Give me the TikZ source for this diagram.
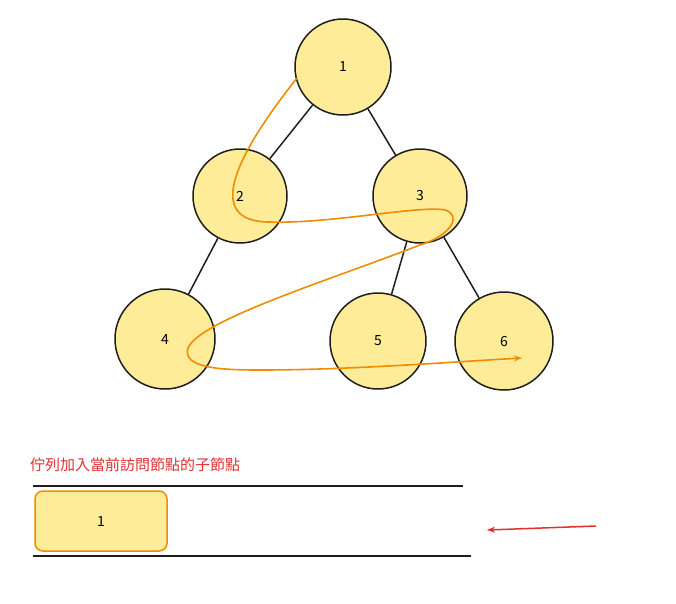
\documentclass[tikz,border=0pt]{standalone}
\usepackage{fontspec}
\setmainfont{Noto Sans CJK TC}
\usetikzlibrary{arrows.meta}
\definecolor{fillY}{HTML}{FFEC99}
\definecolor{ink}{HTML}{1E1E1E}
\definecolor{org}{HTML}{F08C00}
\definecolor{rd}{HTML}{E03131}
\begin{document}
\begin{tikzpicture}[x=1pt,y=-1pt,
  tn/.style={circle,draw=ink,fill=fillY,line width=1.5pt,inner sep=0pt,font=\fontsize{14}{16}\selectfont},
  ed/.style={draw=ink,line width=1.5pt},
  tr/.style={draw=org,line width=1.6pt,-{Stealth[length=8pt]}}]
\useasboundingbox (0,0) rectangle (676,603);
\node[tn,minimum size=96pt] (n1) at (343,67) {1};
\node[tn,minimum size=94pt] (n2) at (240,196) {2};
\node[tn,minimum size=94pt] (n3) at (420,196) {3};
\node[tn,minimum size=100pt] (n4) at (165,339) {4};
\node[tn,minimum size=96pt] (n5) at (378,341) {5};
\node[tn,minimum size=98pt] (n6) at (504,341) {6};
\draw[ed] (n1) -- (n2);
\draw[ed] (n1) -- (n3);
\draw[ed] (n2) -- (n4);
\draw[ed] (n3) -- (n5);
\draw[ed] (n3) -- (n6);
\coordinate (s) at (297,78);
\coordinate (e) at (522,358);
\draw[tr] (s) .. controls (240,150) and (200,222) .. (270,222)
  .. controls (330,224) and (420,205) .. (445,210)
  .. controls (462,215) and (452,235) .. (420,245)
  .. controls (330,280) and (200,320) .. (188,348)
  .. controls (182,368) and (220,370) .. (260,370)
  .. controls (350,370) and (450,362) .. (e);
\node[anchor=base west,text=rd,font=\fontsize{15}{18}\selectfont,inner sep=0pt] (t) at (30,470) {佇列加入當前訪問節點的子節點};
\draw[ink,line width=1.3pt] (33,486) coordinate (a1) -- (463,486) coordinate (a2);
\draw[ink,line width=1.3pt] (33,556) coordinate (b1) -- (471,556) coordinate (b2);
\node[draw=org,fill=fillY,line width=1.5pt,rounded corners=8pt,minimum width=132pt,minimum height=60pt,font=\fontsize{14}{16}\selectfont] (q1) at (101,521) {1};
\coordinate (r1) at (596,526);
\coordinate (r2) at (487,530);
\draw[rd,line width=1.5pt,-{Stealth[length=8pt]}] (r1) -- (r2);
\end{tikzpicture}
\end{document}
